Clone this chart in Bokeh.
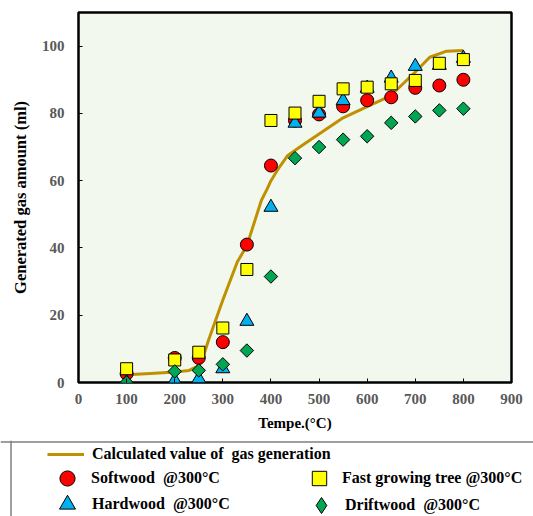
import math
from bokeh.plotting import figure
from bokeh.models import Range1d, Legend, LegendItem, Span, FixedTicker, ColumnDataSource
from bokeh.layouts import column
from bokeh.embed import file_html
from bokeh.resources import INLINE

# ---- data ----
temps = [100, 200, 250, 300, 350, 400, 450, 500, 550, 600, 650, 700, 750, 800]
softwood = [2.6, 7.3, 7.3, 12.0, 41.0, 64.5, 77.9, 79.7, 82.1, 83.9, 84.8, 87.6, 88.3, 90.0]
hardwood = [0.0, 0.6, 1.1, 4.1, 18.2, 52.1, 77.1, 80.1, 83.8, 87.5, 90.5, 94.0, 94.3, 96.4]
fast_growing = [4.1, 6.7, 9.0, 16.2, 33.6, 77.9, 80.1, 83.6, 87.3, 87.8, 88.8, 89.8, 94.9, 96.0]
driftwood = [0.0, 3.3, 3.6, 5.4, 9.5, 31.5, 66.7, 70.0, 72.2, 73.2, 77.2, 79.1, 80.9, 81.4]

calc_temps = [100, 150, 200, 230, 250, 260, 270, 300, 330, 350, 380, 392, 400, 415, 435,
              460, 500, 550, 600, 635, 660, 700, 730, 765, 800]
calc_values = [2.3, 2.7, 3.1, 3.6, 5.0, 8.0, 12.5, 24.5, 35.8, 40.7, 54.1, 57.5, 60.0, 63.5, 67.5,
               70.0, 73.9, 78.7, 82.0, 84.3, 86.8, 92.3, 96.7, 98.5, 98.7]

x_ticks = [0, 100, 200, 300, 400, 500, 600, 700, 800, 900]
y_ticks = [0, 20, 40, 60, 80, 100]

series_labels = ["Calculated value of  gas generation", "Softwood  @300°C", "Hardwood  @300°C",
                 "Fast growing tree @300°C", "Driftwood  @300°C"]

LINE_C = "#BF9000"
RED = "#FF0000"
BLUE = "#00B0F0"
YELLOW = "#FFFF00"
GREEN = "#00A651"
FONT = "Liberation Serif"

# ---- main chart ----
p = figure(width=533, height=440, output_backend="svg", toolbar_location=None,
           x_range=Range1d(0, 900), y_range=Range1d(0, 110),
           min_border_left=78, min_border_right=22, min_border_top=12, min_border_bottom=58)
p.background_fill_color = "#F3F8EE"
p.border_fill_color = "white"
p.outline_line_color = "black"
p.outline_line_width = 2.5
p.grid.visible = False

p.xaxis.ticker = FixedTicker(ticks=x_ticks)
p.yaxis.ticker = FixedTicker(ticks=y_ticks)
for ax in (p.xaxis[0], p.yaxis[0]):
    ax.axis_line_color = None
    ax.major_tick_in = 4
    ax.major_tick_out = 0
    ax.major_tick_line_color = "black"
    ax.major_tick_line_width = 1
    ax.minor_tick_line_color = None
    ax.major_label_text_font = FONT
    ax.major_label_text_font_style = "bold"
    ax.major_label_text_font_size = "15px"
    ax.major_label_text_color = "#595959"
    ax.axis_label_text_font = FONT
    ax.axis_label_text_font_style = "bold"
    ax.axis_label_text_color = "black"

p.xaxis.axis_label = "Tempe.(°C)"
p.xaxis.axis_label_text_font_size = "15px"
p.xaxis.major_label_standoff = 11
p.xaxis.axis_label_standoff = 8
p.yaxis.axis_label = "Generated gas amount (ml)"
p.yaxis.axis_label_text_font_size = "16.5px"
p.yaxis.major_label_standoff = 14
p.yaxis.axis_label_standoff = 9

src = ColumnDataSource(dict(t=temps, soft=softwood, hard=hardwood,
                            fast=fast_growing, drift=driftwood))

p.line(calc_temps, calc_values, line_color=LINE_C, line_width=3, line_join="round")
p.scatter("t", "soft", source=src, marker="circle", size=13,
          fill_color=RED, line_color="black", line_width=1)
p.scatter("t", "hard", source=src, marker="triangle", size=14,
          fill_color=BLUE, line_color="black", line_width=1)
p.scatter("t", "fast", source=src, marker="square", size=12,
          fill_color=YELLOW, line_color="black", line_width=1)
p.scatter("t", "drift", source=src, marker="square", angle=math.pi / 4, size=9.5,
          fill_color=GREEN, line_color="black", line_width=1)

# ---- legend panel (a second figure whose frame is the whole strip) ----
lf = figure(width=533, height=76, output_backend="svg", toolbar_location=None,
            x_range=Range1d(0, 533), y_range=Range1d(0, 76), min_border=0,
            x_axis_location=None, y_axis_location=None)
lf.grid.visible = False
lf.outline_line_color = None
lf.background_fill_color = "white"
lf.border_fill_color = "white"
# series twins are mapped on a range far outside the strip: only their legend keys show
lf.extra_y_ranges = {"hidden": Range1d(1000, 1100)}

for fig in (p, lf):
    if "frame_align" in fig.properties():
        fig.frame_align = False

lf.add_layout(Span(location=74.5, dimension="width", line_color="#7F7F7F", line_width=1.5))
lf.add_layout(Span(location=10.5, dimension="height", line_color="#7F7F7F", line_width=1.5))

k_line = lf.line(calc_temps, calc_values, line_color=LINE_C, line_width=3, y_range_name="hidden")
k_soft = lf.scatter("t", "soft", source=src, marker="circle", fill_color=RED,
                    line_color="black", line_width=1, y_range_name="hidden")
k_hard = lf.scatter("t", "hard", source=src, marker="triangle", fill_color=BLUE,
                    line_color="black", line_width=1, y_range_name="hidden")
k_fast = lf.scatter("t", "fast", source=src, marker="square", fill_color=YELLOW,
                    line_color="black", line_width=1, y_range_name="hidden")
k_drift = lf.scatter("t", "drift", source=src, marker="diamond", fill_color=GREEN,
                     line_color="black", line_width=1, y_range_name="hidden")


def add_legend(label, renderer, loc, gw, gh, standoff):
    leg = Legend(items=[LegendItem(label=label, renderers=[renderer])],
                 location=loc, glyph_width=gw, glyph_height=gh, label_height=gh,
                 label_standoff=standoff, padding=0, margin=0, spacing=0,
                 border_line_color=None, background_fill_alpha=0,
                 label_text_font=FONT, label_text_font_style="bold",
                 label_text_font_size="16px", label_text_color="black")
    lf.add_layout(leg)


add_legend(series_labels[0], k_line, (47, 50), 37, 24, 8)
add_legend(series_labels[1], k_soft, (48, 19), 38, 38, 5)
add_legend(series_labels[2], k_hard, (47, -8), 40, 40, 5)
add_legend(series_labels[3], k_fast, (301, 20), 36, 36, 5)
add_legend(series_labels[4], k_drift, (301, -9), 40, 40, 4)

layout = column(p, lf, spacing=0)
open("out.html", "w").write(file_html(layout, INLINE))
